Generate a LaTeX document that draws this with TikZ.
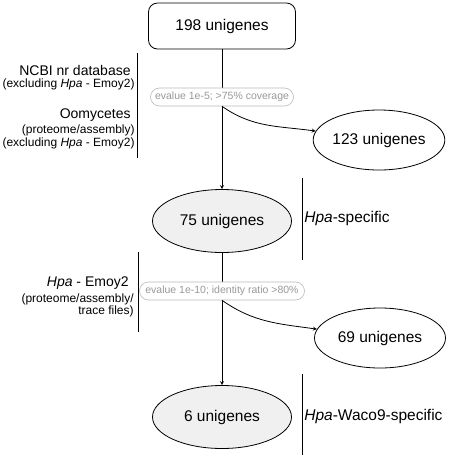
\documentclass[tikz,border=0pt]{standalone}
\usepackage{fontspec}
\setmainfont{Liberation Sans}
\usepackage{tikz}
\usetikzlibrary{shapes}
\usetikzlibrary{arrows.meta, positioning}

\begin{document}
\begin{tikzpicture}[x=1pt, y=-1pt, line width=0.8pt,
    count/.style={ellipse, draw, inner sep=0pt, font=\fontsize{15.5}{18}\selectfont},
    kept/.style={count, fill=gray!12, minimum width=139pt, minimum height=63pt},
    dropped/.style={count, minimum width=131pt, minimum height=60pt},
    filter/.style={rounded rectangle, draw=gray!55, fill=white, text=gray!80, line width=0.6pt,
        inner sep=0pt, minimum height=18pt, font=\fontsize{10.5}{12}\selectfont},
    source/.style={anchor=east, align=right, inner sep=0pt, font=\fontsize{12}{12.5}\selectfont},
    big/.style={anchor=east, inner sep=0pt, font=\fontsize{14}{16}\selectfont},
    result/.style={anchor=west, inner sep=0pt, font=\fontsize{15.5}{18}\selectfont},
    bar/.style={line width=1pt}]
    \useasboundingbox (0,0) rectangle (450,459);
    \node (n198) [draw, rounded corners=9pt, minimum width=147pt, minimum height=46pt,
        font=\fontsize{15.5}{18}\selectfont] at (222,26) {198 unigenes};
    \node (n75) [kept] at (222,221) {75 unigenes};
    \node (n123) [dropped] at (379,140) {123 unigenes};
    \node (n69) [dropped] at (380,338) {69 unigenes};
    \node (n6) [kept] at (222,417) {6 unigenes};
    \path [-stealth]
        (n198) edge (n75)
        (n75) edge (n6);
    \node (f1) [filter, minimum width=143pt] at (222,97) {evalue 1e-5; >75\% coverage};
    \node (f2) [filter, minimum width=165pt] at (222,291) {evalue 1e-10; identity ratio >80\%};
    \path [-stealth]
        (f1.south) edge [out=-35, in=172] (n123)
        (f2.south) edge [out=-35, in=172] (n69);
    \node (ncbi) [big] at (131,70) {NCBI nr database};
    \node (ncbinote) [source] at (135,84) {(excluding \emph{Hpa} - Emoy2)};
    \node (oomy) [big] at (131,115) {Oomycetes};
    \node (oomynote) [source] at (135,137) {(proteome/assembly)\\(excluding \emph{Hpa} - Emoy2)};
    \node (emoy) [big] at (129,283) {\emph{Hpa} - Emoy2};
    \node (emoynote) [source] at (134,305.5) {(proteome/assembly/\\trace files)};
    \node (spec1) [result] at (304,218) {\emph{Hpa}-specific};
    \node (spec2) [result] at (304,416) {\emph{Hpa}-Waco9-specific};
    \draw [bar] (137,53) -- (137,158);
    \draw [bar] (138,252) -- (138,332);
    \draw [bar] (302,178) -- (302,260);
    \draw [bar] (302,374) -- (302,455);
\end{tikzpicture}
\end{document}
